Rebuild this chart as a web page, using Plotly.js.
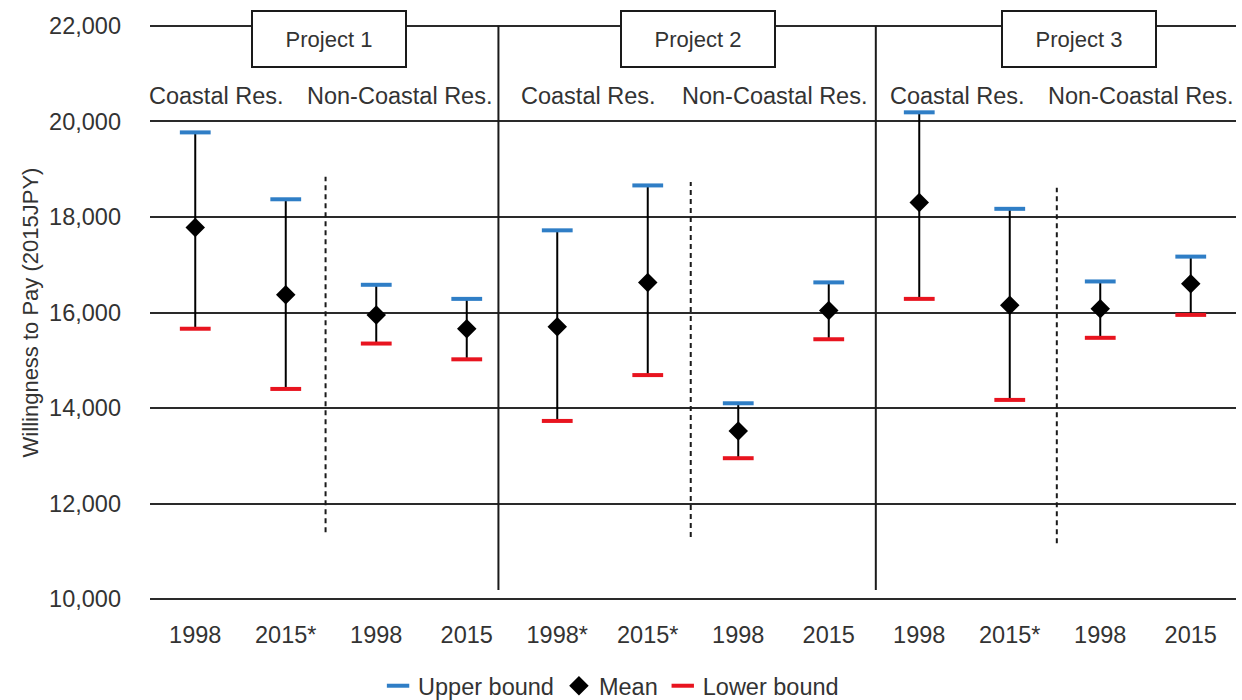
<!DOCTYPE html>
<html>
<head>
<meta charset="utf-8">
<script src="https://cdn.plot.ly/plotly-3.0.1.min.js"></script>
<style>html,body{margin:0;padding:0;background:#fff;}#chart{width:1242px;height:700px;}</style>
</head>
<body>
<div id="chart"></div>
<script>
// ---- data ----
var tickLabels = ['1998','2015*','1998','2015','1998*','2015*','1998','2015','1998','2015*','1998','2015'];
var upperBound = [19770, 18370, 16580, 16285, 17720, 18660, 14100, 16630, 20190, 18170, 16650, 17170];
var meanValue  = [17780, 16370, 15950, 15660, 15700, 16630, 13520, 16040, 18300, 16150, 16080, 16600];
var lowerBound = [15660, 14400, 15350, 15020, 13730, 14690, 12950, 15440, 16285, 14170, 15470, 15950];
var projectNames = ['Project 1', 'Project 2', 'Project 3'];
var groupNames = ['Coastal Res.', 'Non-Coastal Res.', 'Coastal Res.', 'Non-Coastal Res.', 'Coastal Res.', 'Non-Coastal Res.'];
var yTicks = [10000, 12000, 14000, 16000, 18000, 20000, 22000];

var xIdx = tickLabels.map(function(_, i){ return i; });
var FONT = '"Liberation Sans", Arial, sans-serif';
var TXT = '#333333';
var FS = 23.5;

var traces = [
  {
    type: 'scatter', mode: 'markers', name: 'Mean', legendrank: 2,
    x: xIdx, y: meanValue,
    marker: {symbol: 'diamond', size: 15, color: '#000'},
    error_y: {
      type: 'data', symmetric: false,
      array: upperBound.map(function(u, i){ return u - meanValue[i]; }),
      arrayminus: lowerBound.map(function(l, i){ return meanValue[i] - l; }),
      color: '#000', thickness: 2, width: 0
    }
  },
  {
    type: 'scatter', mode: 'markers', name: 'Upper bound', legendrank: 1,
    x: xIdx, y: upperBound,
    marker: {symbol: 'line-ew', size: 22, color: '#2f7ec6', line: {color: '#2f7ec6', width: 4}}
  },
  {
    type: 'scatter', mode: 'markers', name: 'Lower bound', legendrank: 3,
    x: xIdx, y: lowerBound,
    marker: {symbol: 'line-ew', size: 22, color: '#e8141f', line: {color: '#e8141f', width: 4}}
  }
];

// layout decorations
var shapes = [];
[3.35, 7.52].forEach(function(xp){
  shapes.push({type: 'line', xref: 'x', yref: 'y', x0: xp, x1: xp, y0: 10190, y1: 22000,
               line: {color: '#1a1a1a', width: 2}});
});
[[1.44, 11400, 18840], [5.475, 11300, 18730], [9.52, 11170, 18610]].forEach(function(d){
  shapes.push({type: 'line', xref: 'x', yref: 'y', x0: d[0], x1: d[0], y0: d[1], y1: d[2],
               line: {color: '#1a1a1a', width: 2, dash: '5px,4px'}});
});

var annotations = [];
var projX = [1.475, 5.56, 9.77];
projectNames.forEach(function(p, i){
  annotations.push({
    text: p, xref: 'x', yref: 'y', x: projX[i], y: 21720,
    xanchor: 'center', yanchor: 'middle', showarrow: false,
    font: {family: FONT, size: 22, color: TXT},
    bgcolor: '#fff', bordercolor: '#1a1a1a', borderwidth: 2, borderpad: 0,
    width: 152, height: 54
  });
});
var groupX = [0.24, 2.26, 4.35, 6.40, 8.42, 10.45];
groupNames.forEach(function(g, i){
  annotations.push({
    text: g, xref: 'x', yref: 'y', x: groupX[i], y: 20530,
    xanchor: 'center', yanchor: 'middle', showarrow: false,
    font: {family: FONT, size: FS, color: TXT}
  });
});

var layout = {
  width: 1242, height: 700,
  margin: {l: 150, r: 6, t: 23, b: 98, autoexpand: false},
  paper_bgcolor: '#fff', plot_bgcolor: '#fff',
  font: {family: FONT, size: FS, color: TXT},
  showlegend: true,
  legend: {orientation: 'h', x: 0.21, xanchor: 'left', y: -0.145, yanchor: 'middle',
           font: {family: FONT, size: FS, color: TXT}, bgcolor: 'rgba(0,0,0,0)'},
  xaxis: {
    range: [-0.5, 11.5], tickmode: 'array', tickvals: xIdx, ticktext: tickLabels,
    showgrid: false, zeroline: false, showline: false, ticks: '',
    ticklabelstandoff: 16, tickfont: {family: FONT, size: FS, color: TXT}, automargin: false
  },
  yaxis: {
    range: [9940, 22060], tickmode: 'array', tickvals: yTicks,
    ticktext: yTicks.map(function(v){ return v.toLocaleString('en-US'); }),
    showgrid: true, gridcolor: '#2a2a2a', gridwidth: 2,
    zeroline: false, showline: false, ticks: '', automargin: false,
    ticklabelstandoff: 28, tickfont: {family: FONT, size: FS, color: TXT},
    title: {text: 'Willingness to Pay (2015JPY)', font: {family: FONT, size: 22, color: TXT}, standoff: 4}
  },
  shapes: shapes,
  annotations: annotations
};

Plotly.newPlot('chart', traces, layout, {displayModeBar: false, staticPlot: true});
</script>
</body>
</html>
